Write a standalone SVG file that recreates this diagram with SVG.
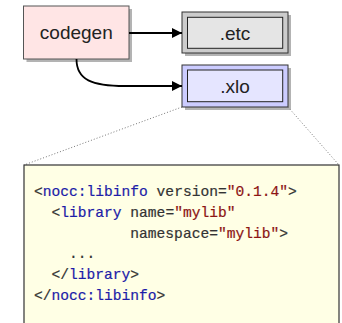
<svg xmlns="http://www.w3.org/2000/svg" width="342" height="323" viewBox="0 0 342 323">
  <style>
    .shadow { fill: #9a9a9a; opacity: 0.75; }
    .label { font-family: "Liberation Sans", Arial, sans-serif; font-size: 19px; fill: #222; text-anchor: middle; }
    .wire { fill: none; stroke: #000; stroke-width: 1.8; }
    .zoomline { fill: none; stroke: #777; stroke-width: 1; stroke-dasharray: 1 2; }
    .code { font-family: "Liberation Mono", "DejaVu Sans Mono", monospace; font-size: 14.6px; fill: #333; white-space: pre; stroke: currentColor; stroke-width: 0.2; }
    .tag { fill: #1c1ca8; }
    .str { fill: #8c1414; }
  </style>
  <defs>
    <marker id="arrow" viewBox="0 0 10 10" refX="10" refY="5" markerWidth="10" markerHeight="10" markerUnits="userSpaceOnUse" orient="auto">
      <path d="M0,0 L10,5 L0,10 z" fill="#000"/>
    </marker>
  </defs>

  <!-- dotted lines fanning out from .xlo to its contents -->
  <g id="zoom-lines">
    <line class="zoomline" x1="182" y1="107" x2="24" y2="165"/>
    <line class="zoomline" x1="288" y1="107" x2="339" y2="165"/>
  </g>

  <g id="codegen">
    <rect class="shadow" x="26.5" y="9" width="105.5" height="53"/>
    <rect x="23.5" y="6" width="105.5" height="53" fill="#ffe5e5" stroke="#555" stroke-width="1"/>
    <text class="label" x="76.3" y="38.5">codegen</text>
  </g>

  <g id="etc">
    <rect class="shadow" x="185" y="15" width="106" height="41"/>
    <rect x="182" y="12" width="106" height="41" fill="#cccccc" stroke="#333" stroke-width="1"/>
    <rect x="187.5" y="17.3" width="95.2" height="31" fill="#e5e5e5" stroke="#222" stroke-width="1"/>
    <text class="label" x="235" y="39.5">.etc</text>
  </g>

  <g id="xlo">
    <rect class="shadow" x="185" y="68" width="106" height="42"/>
    <rect x="182" y="65" width="106" height="42" fill="#ccccff" stroke="#333" stroke-width="1"/>
    <rect x="187.5" y="70" width="95.2" height="31.7" fill="#e5e5ff" stroke="#222" stroke-width="1"/>
    <text class="label" x="235" y="92.5">.xlo</text>
  </g>

  <g id="connectors">
    <line class="wire" x1="129" y1="33" x2="182" y2="33" marker-end="url(#arrow)"/>
    <path class="wire" d="M76.5,59 C76.5,80 92,86 125,86 L182,86" marker-end="url(#arrow)"/>
  </g>

  <g id="libinfo">
    <rect x="24" y="165" width="315" height="170" fill="#ffffe5" stroke="#333" stroke-width="1.2"/>
    <text class="code" x="34" y="196" color="#333">&lt;<tspan class="tag" color="#1c1ca8">nocc:libinfo</tspan> version=<tspan class="str" color="#8c1414">"0.1.4"</tspan>&gt;</text>
    <text class="code" x="34" y="216.8" color="#333">  &lt;<tspan class="tag" color="#1c1ca8">library</tspan> name=<tspan class="str" color="#8c1414">"mylib"</tspan></text>
    <text class="code" x="34" y="237.5" color="#333">           namespace=<tspan class="str" color="#8c1414">"mylib"</tspan>&gt;</text>
    <text class="code" x="34" y="258" color="#333">    ...</text>
    <text class="code" x="34" y="278.8" color="#333">  &lt;/<tspan class="tag" color="#1c1ca8">library</tspan>&gt;</text>
    <text class="code" x="34" y="299.5" color="#333">&lt;/<tspan class="tag" color="#1c1ca8">nocc:libinfo</tspan>&gt;</text>
  </g>
</svg>
